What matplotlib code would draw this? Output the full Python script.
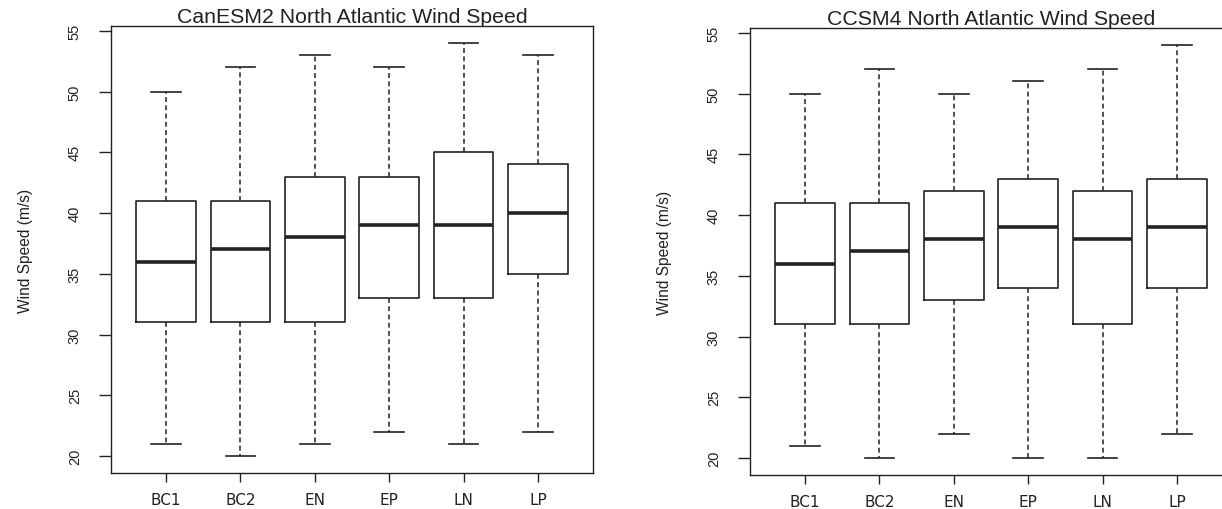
import matplotlib
matplotlib.use("Agg")
import matplotlib.pyplot as plt

# Scenario groups shown on the x axis
categories = ["BC1", "BC2", "EN", "EP", "LN", "LP"]

# CanESM2 box statistics (m/s)
can_low = [21, 20, 21, 22, 21, 22]
can_q1 = [31, 31, 31, 33, 33, 35]
can_med = [36, 37, 38, 39, 39, 40]
can_q3 = [41, 41, 43, 43, 45, 44]
can_high = [50, 52, 53, 52, 54, 53]

# CCSM4 box statistics (m/s)
ccs_low = [21, 20, 22, 20, 20, 22]
ccs_q1 = [31, 31, 33, 34, 31, 34]
ccs_med = [36, 37, 38, 39, 38, 39]
ccs_q3 = [41, 41, 42, 43, 42, 43]
ccs_high = [50, 52, 50, 51, 52, 54]

y_ticks = [20, 25, 30, 35, 40, 45, 50, 55]

INK = "#222222"
SANS = ["Liberation Sans", "DejaVu Sans"]
NARROW = ["Liberation Sans Narrow", "Liberation Sans", "DejaVu Sans"]
WIDE = ["DejaVu Sans"]


def make_stats(low, q1, med, q3, high):
    return [dict(whislo=a, q1=b, med=c, q3=d, whishi=e, fliers=[])
            for a, b, c, d, e in zip(low, q1, med, q3, high)]


def draw_panel(ax, stats, title):
    ax.bxp(stats, positions=range(1, len(stats) + 1), widths=0.8,
           showfliers=False, patch_artist=False,
           boxprops=dict(color=INK, linewidth=1.2),
           medianprops=dict(color=INK, linewidth=2.6, solid_capstyle="butt"),
           whiskerprops=dict(color=INK, linewidth=1.1, linestyle=(0, (3.2, 2.2))),
           capprops=dict(color=INK, linewidth=1.2),
           capwidths=0.4)
    ax.set_xlim(0.26, 6.74)
    ax.set_ylim(18.6, 55.4)
    ax.set_xticks(range(1, len(categories) + 1))
    ax.set_xticklabels(categories, fontfamily=WIDE, fontsize=11, color=INK)
    ax.set_yticks(y_ticks)
    ax.set_yticklabels([str(v) for v in y_ticks], rotation=90, va="center",
                       fontfamily=NARROW, fontsize=10.5, color=INK)
    ax.tick_params(axis="y", length=9, width=1.0, color=INK, pad=12)
    ax.tick_params(axis="x", length=6.5, width=1.0, color=INK, pad=7.5)
    for sp in ax.spines.values():
        sp.set_linewidth(1.0)
        sp.set_color(INK)
    ax.set_ylabel("Wind Speed (m/s)", fontfamily=NARROW, fontsize=11.2,
                  color=INK, labelpad=25)
    ax.set_title(title, fontfamily=SANS, fontsize=15.3, color=INK, pad=1)


fig = plt.figure(figsize=(12.22, 5.10), dpi=100)
ax1 = fig.add_axes([0.0908, 0.0706, 0.3945, 0.8765])
ax2 = fig.add_axes([0.6137, 0.0667, 0.3945, 0.8765])

draw_panel(ax1, make_stats(can_low, can_q1, can_med, can_q3, can_high),
           "CanESM2 North Atlantic Wind Speed")
draw_panel(ax2, make_stats(ccs_low, ccs_q1, ccs_med, ccs_q3, ccs_high),
           "CCSM4 North Atlantic Wind Speed")

fig.savefig("out.png", dpi=100)
